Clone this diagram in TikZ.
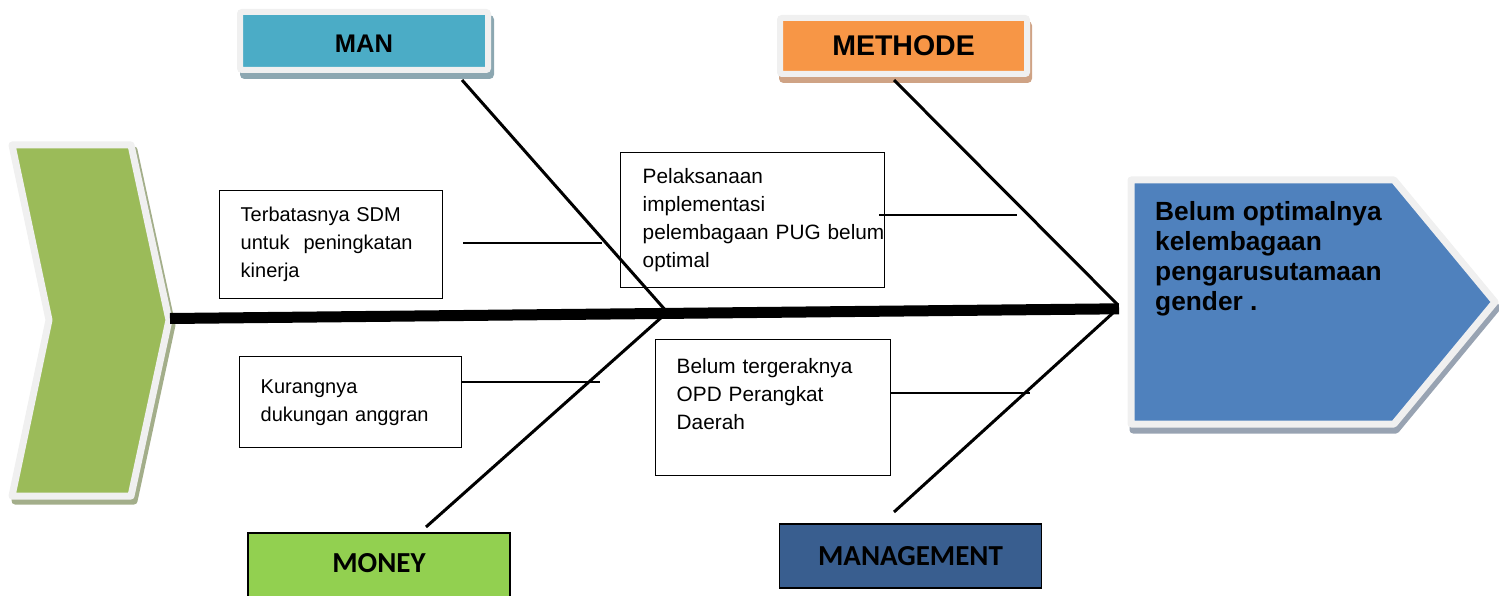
\documentclass[tikz,border=0pt]{standalone}
\usepackage{fontspec}
\setmainfont{Liberation Sans}
\newfontfamily\calibri{Carlito}
\usetikzlibrary{calc,positioning,shadows}

\definecolor{rimgrey}{RGB}{240,240,240}
\definecolor{chevgreen}{HTML}{9BBB59}
\definecolor{chevshadow}{RGB}{163,174,138}
\definecolor{headblue}{HTML}{4F81BD}
\definecolor{headshadow}{RGB}{152,163,178}
\definecolor{manblue}{HTML}{4BACC6}
\definecolor{manshadow}{RGB}{140,167,177}
\definecolor{methorange}{HTML}{F79646}
\definecolor{methshadow}{RGB}{207,163,133}
\definecolor{moneygreen}{HTML}{92D050}
\definecolor{mgmtblue}{RGB}{57,94,143}

\tikzset{
  spine/.style={line width=11pt},
  bone/.style={line width=3pt},
  twig/.style={line width=1.4pt},
  causebox/.style={draw, line width=1.4pt, anchor=north west, align=left,
    inner xsep=21pt, inner ysep=4pt, font={\fontsize{20pt}{28pt}\selectfont}},
  headerbox/.style={draw=rimgrey, line width=6pt, rounded corners=2pt,
    inner sep=0pt},
  plainbox/.style={draw, line width=1.4pt, minimum width=262pt,
    font={\calibri\bfseries\fontsize{29pt}{32pt}\selectfont}}
}

\begin{document}
\begin{tikzpicture}[x=1pt,y=-1pt]
    \useasboundingbox (0,0) rectangle (1499,596);
    \clip (0,0) rectangle (1499,596);

    % tail chevron
    \filldraw[chevshadow, line width=7pt, line join=round, shift={(3,5)}]
        (12,145) -- (131,145) -- (169,320) -- (131,496) -- (12,496) -- (49,320) -- cycle;
    \filldraw[fill=chevgreen, draw=rimgrey, line width=7pt, line join=round]
        (12,145) -- (131,145) -- (169,320) -- (131,496) -- (12,496) -- (49,320) -- cycle;

    % head (effect)
    \filldraw[headshadow, line width=7pt, line join=round, shift={(2,6)}]
        (1131,180) -- (1394,180) -- (1495,302) -- (1394,424) -- (1131,424) -- cycle;
    \filldraw[fill=headblue, draw=rimgrey, line width=7pt, line join=round]
        (1131,180) -- (1394,180) -- (1495,302) -- (1394,424) -- (1131,424) -- cycle;
    \node[anchor=north west, align=left, inner sep=0pt,
          font={\bfseries\fontsize{26.3pt}{30pt}\selectfont}] (effect) at (1155,201)
        {Belum optimalnya\\kelembagaan\\pengarusutamaan\\gender .};

    % category boxes
    \node[headerbox, fill=manblue, minimum width=248pt, minimum height=58pt,
          text height=24pt, text depth=0pt,
          general shadow={fill=manshadow, draw=manshadow, line width=6pt,
          shadow xshift=3pt, shadow yshift=-6pt},
          font={\bfseries\fontsize{25.5pt}{30pt}\selectfont}] (man) at (364,41) {MAN};
    \node[headerbox, fill=methorange, minimum width=247pt, minimum height=56pt,
          general shadow={fill=methshadow, draw=methshadow, line width=6pt,
          shadow xshift=2pt, shadow yshift=-6pt},
          font={\bfseries\fontsize{28.5pt}{32pt}\selectfont}] (methode) at (903.5,46) {METHODE};
    \node[plainbox, fill=moneygreen, anchor=base, text height=29pt, text depth=20pt,
          inner ysep=10pt] (money) at (379,572) {MONEY};
    \node[plainbox, fill=mgmtblue, minimum height=64pt] (mgmt) at (910.5,556) {MANAGEMENT};

    % cause boxes
    \node[causebox, text width=181pt, minimum height=108pt] (sdm) at (219,190)
        {Terbatasnya SDM\\untuk\hspace{14pt}peningkatan\\kinerja};
    \node[causebox, text width=180pt, minimum height=91pt] (dana) at (239,356)
        {Kurangnya\\dukungan anggran};
    \node[causebox, inner xsep=22pt, text width=220pt, minimum height=135pt,
          font={\fontsize{20.8pt}{28pt}\selectfont}] (pug) at (620,152)
        {Pelaksanaan\\implementasi\\\leavevmode\rlap{pelembagaan PUG belum}\\optimal};
    \node[causebox, text width=193pt, minimum height=136pt,
          font={\fontsize{20.8pt}{28pt}\selectfont}] (opd) at (655,339)
        {Belum tergeraknya\\OPD Perangkat\\Daerah\\\mbox{}};

    % spine and bones
    \coordinate (tail) at (170,318.5);
    \coordinate (head) at (1119,308.8);
    \coordinate (manend) at (462,80);
    \coordinate (manjoin) at (667,312);
    \coordinate (moneyend) at (426,527);
    \coordinate (moneyjoin) at (663,316);
    \coordinate (methend) at (894,80);
    \coordinate (methjoin) at (1118,305);
    \coordinate (mgmtend) at (894,512);
    \coordinate (mgmtjoin) at (1114,312);

    \draw[spine] (tail) -- (head);
    \draw[bone] (manend) -- (manjoin);
    \draw[bone] (moneyend) -- (moneyjoin);
    \draw[bone] (methend) -- (methjoin);
    \draw[bone] (mgmtend) -- (mgmtjoin);

    % twigs
    \coordinate (sdmtwig) at (602,243);
    \coordinate (danatwig) at (600,382);
    \coordinate (pugtwig) at (1017,215);
    \coordinate (opdtwig) at (1030,393);
    \draw[twig] ($(sdm.east |- sdmtwig)+(20,0)$) -- (sdmtwig);
    \draw[twig] (dana.east |- danatwig) -- (danatwig);
    \draw[twig] ($(pug.east |- pugtwig)+(-6,0)$) -- (pugtwig);
    \draw[twig] (opd.east |- opdtwig) -- (opdtwig);
\end{tikzpicture}
\end{document}
